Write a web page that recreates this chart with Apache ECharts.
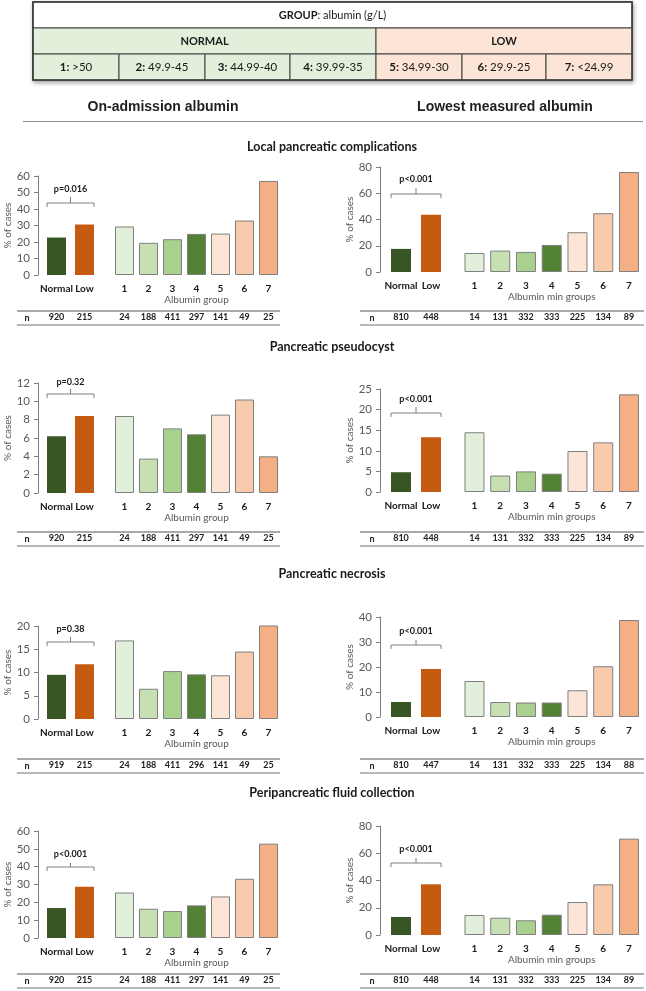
<!DOCTYPE html>
<html><head><meta charset="utf-8">
<script src="https://cdn.jsdelivr.net/npm/echarts@6/dist/echarts.min.js"></script>
<style>html,body{margin:0;padding:0;background:#fff}#c{width:646px;height:991px}</style>
</head><body><div id="c"></div><script>
// ---------------- DATA ----------------
const summaryCategories = ['Normal', 'Low'];
const groupCategories = ['1', '2', '3', '4', '5', '6', '7'];
const tableTitleBold = 'GROUP';
const tableTitleRest = ': albumin (g/L)';
const tableBands = ['NORMAL', 'LOW'];
const tableGroupIds = ['1:', '2:', '3:', '4:', '5:', '6:', '7:'];
const tableGroupRanges = ['>50', '49.9-45', '44.99-40', '39.99-35', '34.99-30', '29.9-25', '<24.99'];
const columnTitles = ['On-admission albumin', 'Lowest measured albumin'];
const xAxisTitles = ['Albumin group', 'Albumin min groups'];
const yAxisTitle = '% of cases';
const outcomes = ['Local pancreatic complications', 'Pancreatic pseudocyst', 'Pancreatic necrosis', 'Peripancreatic fluid collection'];

// On-admission albumin
const admLocalSummary = [22.7, 30.6];
const admLocalGroups = [29.4, 19.5, 21.7, 24.9, 25.1, 33.0, 57.0];
const admLocalN = [920, 215, 24, 188, 411, 297, 141, 49, 25];
const admPseudoSummary = [6.2, 8.4];
const admPseudoGroups = [8.4, 3.75, 7.05, 6.4, 8.55, 10.2, 4.0];
const admPseudoN = [920, 215, 24, 188, 411, 297, 141, 49, 25];
const admNecrosisSummary = [9.5, 11.8];
const admNecrosisGroups = [16.9, 6.5, 10.3, 9.6, 9.4, 14.5, 20.2];
const admNecrosisN = [919, 215, 24, 188, 411, 296, 141, 49, 25];
const admFluidSummary = [16.8, 28.7];
const admFluidGroups = [25.5, 16.4, 15.1, 18.3, 23.3, 33.2, 52.9];
const admFluidN = [920, 215, 24, 188, 411, 297, 141, 49, 25];
const admPValues = ['p=0.016', 'p=0.32', 'p=0.38', 'p<0.001'];
const admYMax = [60, 12, 20, 60];
const admYStep = [10, 2, 5, 10];

// Lowest measured albumin
const lowLocalSummary = [17.6, 43.6];
const lowLocalGroups = [14.5, 16.3, 15.3, 20.6, 30.3, 44.8, 76.2];
const lowLocalN = [810, 448, 14, 131, 332, 333, 225, 134, 89];
const lowPseudoSummary = [4.8, 13.3];
const lowPseudoGroups = [14.5, 4.0, 5.0, 4.45, 9.95, 12.05, 23.7];
const lowPseudoN = [810, 448, 14, 131, 332, 333, 225, 134, 89];
const lowNecrosisSummary = [6.0, 19.2];
const lowNecrosisGroups = [14.4, 6.0, 5.8, 5.8, 10.7, 20.3, 38.8];
const lowNecrosisN = [810, 447, 14, 131, 332, 333, 225, 134, 88];
const lowFluidSummary = [13.2, 37.2];
const lowFluidGroups = [14.7, 12.7, 10.8, 14.9, 24.2, 37.2, 70.7];
const lowFluidN = [810, 448, 14, 131, 332, 333, 225, 134, 89];
const lowPValues = ['p<0.001', 'p<0.001', 'p<0.001', 'p<0.001'];
const lowYMax = [80, 25, 40, 80];
const lowYStep = [20, 5, 10, 20];

// ---------------- STYLE / LAYOUT ----------------
const FONT = 'Lato, "Open Sans", sans-serif';
const summaryColors = ['#375623', '#c55a11'];
const groupColors = ['#e2efda', '#c6e0b4', '#a9d08e', '#548235', '#fce4d6', '#f8cbad', '#f4b084'];
const greenFill = '#e2efda', pinkFill = '#fce4d6';

const cols = [
  {
    summary: [admLocalSummary, admPseudoSummary, admNecrosisSummary, admFluidSummary],
    groups: [admLocalGroups, admPseudoGroups, admNecrosisGroups, admFluidGroups],
    n: [admLocalN, admPseudoN, admNecrosisN, admFluidN],
    p: admPValues, yMax: admYMax, yStep: admYStep, xTitle: xAxisTitles[0],
    axisX: 38, aLeft: 42.5, aW: 56, bLeft: 112.5, bW: 168, barW: 19, nameGap: 21,
    lineX: [17, 280], nX: 27,
    rows: [[176, 275], [383, 493], [626, 719], [831, 938]],
    nY: [318, 539, 766, 981],
    br: [[189, 203, 207, 197], [382, 394, 398, 389], [629, 642, 646, 637], [854, 867, 871, 863]]
  },
  {
    summary: [lowLocalSummary, lowPseudoSummary, lowNecrosisSummary, lowFluidSummary],
    groups: [lowLocalGroups, lowPseudoGroups, lowNecrosisGroups, lowFluidGroups],
    n: [lowLocalN, lowPseudoN, lowNecrosisN, lowFluidN],
    p: lowPValues, yMax: lowYMax, yStep: lowYStep, xTitle: xAxisTitles[1],
    axisX: 380, aLeft: 386, aW: 60, bLeft: 461.6, bW: 180.25, barW: 20, nameGap: 20,
    lineX: [360, 644], nX: 372,
    rows: [[167, 272], [389, 492], [617, 717], [826, 935]],
    nY: [318, 539, 766, 981],
    br: [[179, 194, 198, 188], [399, 413, 417, 407], [631, 645, 649, 640], [849, 863, 867, 858]]
  }
];

const chart = echarts.init(document.getElementById('c'), null, { renderer: 'canvas', width: 646, height: 991 });

const grid = [], xAxis = [], yAxis = [], series = [];
const panels = [];
cols.forEach((col) => { for (let r = 0; r < 4; r++) panels.push({ col, r }); });

panels.forEach((pn, p) => {
  const c = pn.col, r = pn.r;
  const top = c.rows[r][0], bottom = c.rows[r][1];
  const h = bottom - top;
  const gA = 2 * p, gB = 2 * p + 1;
  grid.push({ left: c.aLeft, top: top, width: c.aW, height: h, outerBoundsMode: 'none' });
  grid.push({ left: c.bLeft, top: top, width: c.bW, height: h, outerBoundsMode: 'none' });
  const catLabel = { interval: 0, fontFamily: FONT, fontWeight: 'bold', fontSize: 10, color: '#1a1a1a', margin: 8.5 };
  const nOff = c.nY[r] - bottom - 5;
  const nArr = c.n[r];
  const nLabelA = { interval: 0, margin: 0, fontFamily: FONT, fontWeight: 'bold', fontSize: 9, color: '#222', formatter: (v, i) => String(nArr[i]) };
  const nLabelB = { interval: 0, margin: 0, fontFamily: FONT, fontWeight: 'bold', fontSize: 9, color: '#222', formatter: (v, i) => String(nArr[i + 2]) };
  xAxis.push({ type: 'category', gridIndex: gA, data: summaryCategories, axisLine: { show: false }, axisTick: { show: false }, axisLabel: catLabel });
  xAxis.push({ type: 'category', gridIndex: gA, data: summaryCategories, position: 'bottom', offset: nOff, axisLine: { show: false }, axisTick: { show: false }, axisLabel: nLabelA });
  xAxis.push({ type: 'category', gridIndex: gB, data: groupCategories, axisLine: { show: false }, axisTick: { show: false }, axisLabel: catLabel,
    name: c.xTitle, nameLocation: 'middle', nameGap: 19, nameTextStyle: { fontFamily: FONT, fontSize: 10, color: '#595959' } });
  xAxis.push({ type: 'category', gridIndex: gB, data: groupCategories, position: 'bottom', offset: nOff, axisLine: { show: false }, axisTick: { show: false }, axisLabel: nLabelB });
  yAxis.push({ type: 'value', gridIndex: gA, min: 0, max: c.yMax[r], interval: c.yStep[r], offset: c.aLeft - c.axisX,
    axisLine: { show: true, lineStyle: { color: '#7f7f7f', width: 1 } },
    axisTick: { show: true, length: 4, lineStyle: { color: '#7f7f7f' } },
    splitLine: { show: false },
    axisLabel: { fontFamily: FONT, fontSize: 11.5, color: '#595959', margin: 8 },
    name: yAxisTitle, nameLocation: 'middle', nameGap: c.nameGap, nameRotate: 90,
    nameTextStyle: { fontFamily: FONT, fontSize: 10, color: '#595959' } });
  yAxis.push({ type: 'value', gridIndex: gB, min: 0, max: c.yMax[r], interval: c.yStep[r], show: false, splitLine: { show: false } });
  series.push({ type: 'bar', xAxisIndex: 4 * p, yAxisIndex: gA, barWidth: c.barW, silent: true,
    data: c.summary[r].map((v, i) => ({ value: v, itemStyle: { color: summaryColors[i] } })) });
  series.push({ type: 'bar', xAxisIndex: 4 * p + 2, yAxisIndex: gB, barWidth: c.barW, silent: true,
    itemStyle: { borderColor: '#7f7f7f', borderWidth: 1 },
    data: c.groups[r].map((v, i) => ({ value: v, itemStyle: { color: groupColors[i], borderColor: '#7f7f7f', borderWidth: 1 } })) });
});

chart.setOption({ animation: false, backgroundColor: '#fff', grid, xAxis, yAxis, series });

// ---------------- GRAPHICS ----------------
const g = [];
function txt(x, y, text, font, fill, align, rich) {
  const o = { type: 'text', x: x, y: y, silent: true, style: { text: text, font: font, fill: fill || '#1a1a1a',
    align: align || 'center', verticalAlign: 'middle', textAlign: align || 'center', textVerticalAlign: 'middle' } };
  if (rich) o.style.rich = rich;
  return o;
}
function rect(x, y, w, h, fill, extra) {
  return Object.assign({ type: 'rect', silent: true, shape: { x: x, y: y, width: w, height: h }, style: { fill: fill, stroke: '#404040', lineWidth: 1 } }, extra || {});
}
function line(x1, y1, x2, y2, color, w) {
  return { type: 'line', silent: true, shape: { x1, y1, x2, y2 }, style: { stroke: color, lineWidth: w || 1 } };
}

// table
const tX = [33, 119, 205, 290, 376, 462, 546, 632];
g.push(rect(33, 2, 599, 78, '#ffffff', { style: { fill: '#fff', stroke: '#404040', lineWidth: 1.5, shadowBlur: 4, shadowColor: 'rgba(0,0,0,0.35)', shadowOffsetX: 1, shadowOffsetY: 2 } }));
g.push(rect(33, 2, 599, 26, '#ffffff'));
g.push(rect(33, 28, tX[4] - 33, 26, greenFill));
g.push(rect(tX[4], 28, 632 - tX[4], 26, pinkFill));
for (let i = 0; i < 7; i++) g.push(rect(tX[i], 54, tX[i + 1] - tX[i], 26, i < 4 ? greenFill : pinkFill));
g.push(rect(33, 2, 599, 78, 'none', { style: { fill: 'none', stroke: '#404040', lineWidth: 1.5 } }));
g.push(txt(332.5, 15, '{b|' + tableTitleBold + '}' + tableTitleRest, '11px ' + FONT, '#1a1a1a', 'center',
  { b: { fontFamily: FONT, fontSize: 11, fontWeight: 'bold', fill: '#1a1a1a', color: '#1a1a1a' } }));
g.push(txt((33 + tX[4]) / 2, 41, tableBands[0], 'bold 11px ' + FONT));
g.push(txt((tX[4] + 632) / 2, 41, tableBands[1], 'bold 11px ' + FONT));
for (let i = 0; i < 7; i++) {
  g.push(txt((tX[i] + tX[i + 1]) / 2, 67, '{b|' + tableGroupIds[i] + '} ' + tableGroupRanges[i], '11.5px ' + FONT, '#1a1a1a', 'center',
    { b: { fontFamily: FONT, fontSize: 11.5, fontWeight: 'bold', fill: '#1a1a1a', color: '#1a1a1a' } }));
}

// column titles
g.push(txt(163, 107, columnTitles[0], 'bold 14px "Liberation Sans", Arial, sans-serif', '#1f1f1f'));
g.push(txt(505, 107, columnTitles[1], 'bold 14px "Liberation Sans", Arial, sans-serif', '#1f1f1f'));
g.push(line(23, 121.5, 643, 121.5, '#8a8a8a', 1));

// section titles
const secY = [147, 347, 574, 793];
outcomes.forEach((t, i) => g.push(txt(332, secY[i], t, 'bold 12.5px ' + FONT, '#1a1a1a')));

// n rows, brackets, p-values
panels.forEach((pn, p) => {
  const c = pn.col, r = pn.r;
  const ny = c.nY[r];
  g.push(line(c.lineX[0], ny - 7, c.lineX[1], ny - 7, '#8c8c8c', 1.3));
  g.push(line(c.lineX[0], ny + 7, c.lineX[1], ny + 7, '#a0a0a0', 1.3));
  g.push(txt(c.nX, ny, 'n', 'bold 9px ' + FONT, '#222'));
  const xN = chart.convertToPixel({ xAxisIndex: 4 * p }, summaryCategories[0]);
  const xL = chart.convertToPixel({ xAxisIndex: 4 * p }, summaryCategories[1]);
  const x1 = xN - c.barW / 2, x2 = xL + c.barW / 2, xm = (x1 + x2) / 2;
  const [ly, by, ey, my] = c.br[r];
  g.push({ type: 'polyline', silent: true, shape: { points: [[x1, ey], [x1, by], [x2, by], [x2, ey]] }, style: { stroke: '#7f7f7f', lineWidth: 1, fill: 'none' } });
  g.push(line(xm, by, xm, my, '#7f7f7f', 1));
  g.push(txt(xm, ly, c.p[r], 'bold 9px ' + FONT, '#1a1a1a'));
});

chart.setOption({ graphic: { elements: g } });
</script></body></html>
